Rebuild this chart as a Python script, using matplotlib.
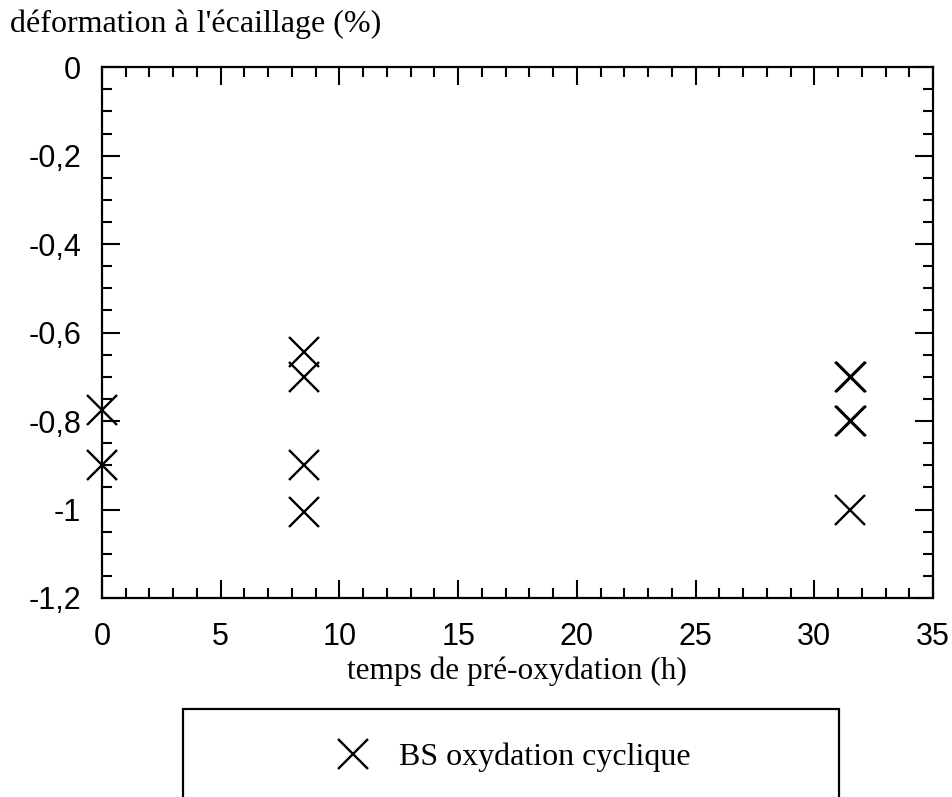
import matplotlib
matplotlib.use("Agg")
import matplotlib.pyplot as plt
from matplotlib.lines import Line2D
from matplotlib.patches import Rectangle
from matplotlib.ticker import MultipleLocator, FuncFormatter

# temps de pré-oxydation (h) / déformation à l'écaillage (%)
temps = [0, 0, 8.5, 8.5, 8.5, 8.5, 31.5, 31.55, 31.5, 31.55, 31.5]
deformation = [-0.775, -0.90, -0.645, -0.70, -0.90, -1.005, -0.70, -0.70, -0.80, -0.80, -1.00]

x_ticks = [0, 5, 10, 15, 20, 25, 30, 35]
y_ticks = [0, -0.2, -0.4, -0.6, -0.8, -1.0, -1.2]

serif = ["Liberation Serif", "DejaVu Serif"]
sans = ["Liberation Sans", "DejaVu Sans"]

fig = plt.figure(figsize=(9.53, 7.97), dpi=100)
ax = fig.add_axes([0.107, 0.2497, 0.872, 0.666])

ax.plot(temps, deformation, linestyle="none", marker="x", markersize=22,
        markeredgewidth=1.7, color="black", clip_on=False)

ax.set_xlim(0, 35)
ax.set_ylim(-1.2, 0)
ax.set_xticks(x_ticks)
ax.set_yticks(y_ticks)
ax.xaxis.set_minor_locator(MultipleLocator(1))
ax.yaxis.set_minor_locator(MultipleLocator(0.05))

comma = FuncFormatter(lambda v, p: ("%g" % round(v, 2)).replace(".", ","))
ax.xaxis.set_major_formatter(comma)
ax.yaxis.set_major_formatter(comma)

ax.tick_params(which="both", direction="in", top=True, right=True, width=1.5)
ax.tick_params(which="major", length=13, labelsize=22)
ax.tick_params(which="minor", length=7)
ax.tick_params(axis="x", which="major", pad=17)
ax.tick_params(axis="y", which="major", pad=15)
for lab in ax.get_xticklabels() + ax.get_yticklabels():
    lab.set_family(sans)
for s in ax.spines.values():
    s.set_linewidth(1.6)

fig.text(517 / 953, 1 - 671 / 797, "temps de pré-oxydation (h)", ha="center",
         va="center", fontsize=22.5, family=serif)
fig.text(10 / 953, 1 - 24 / 797, "déformation à l'écaillage (%)", ha="left",
         va="center", fontsize=23, family=serif)

# legend box running off the bottom edge
fig.patches.append(Rectangle((183 / 953, -0.05), (839 - 183) / 953, 0.05 + (797 - 709) / 797,
                             transform=fig.transFigure, fill=False, edgecolor="black",
                             linewidth=1.6))
handle = Line2D([], [], linestyle="none", marker="x", markersize=22,
                markeredgewidth=1.7, color="black")
fig.legend([handle], ["BS oxydation cyclique"], loc="center left",
           bbox_to_anchor=(300 / 953, 1 - 757 / 797), frameon=False,
           prop={"family": serif, "size": 23}, handletextpad=0.7, handlelength=1.5)

plt.savefig("out.png", dpi=100)
